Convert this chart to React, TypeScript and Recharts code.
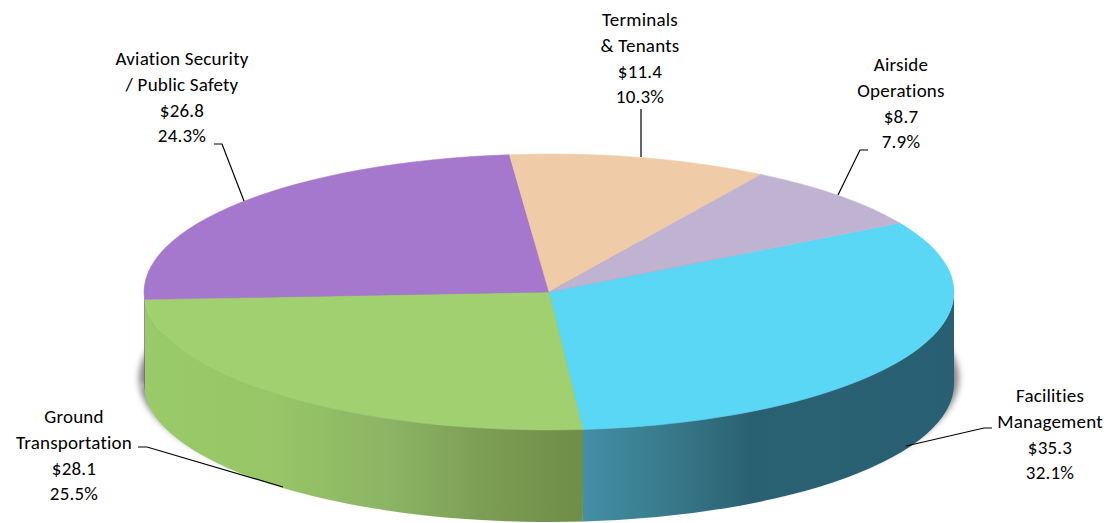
import { Pie, PieChart } from 'recharts';

const WIDTH = 1112;
const HEIGHT = 523;
const CX = 549;
const CY = 292;
const RX = 405;
const RY = 138;
const DEPTH = 92;
const START = 30;

const names = [
  ['Facilities', 'Management'],
  ['Ground', 'Transportation'],
  ['Aviation Security', '/ Public Safety'],
  ['Terminals', '& Tenants'],
  ['Airside', 'Operations'],
];
const amounts = [35.3, 28.1, 26.8, 11.4, 8.7];
const shares = ['32.1%', '25.5%', '24.3%', '10.3%', '7.9%'];
const faceColors = ['#5bd7f6', '#a0d06f', '#a678cd', '#f0cba8', '#bfb3d1'];
const wallColors = ['url(#wallBlue)', 'url(#wallGreen)', '#6b4a85', '#96806a', '#7a7285'];

// label anchor: centre x, first baseline
const labelSpots = [
  [1050, 402],
  [74, 423],
  [182, 65],
  [640, 26],
  [901, 71],
];
const leaders = [
  '992,428 984,428 906,446',
  '138,447 147,447 283,487',
  '214,144 222,144 244,201',
  '641,109 641,157',
  '868,150 860,150 838,195',
];

const rows = names.map((lines, i) => ({
  name: lines.join(' '),
  value: amounts[i],
  fill: faceColors[i],
  wall: wallColors[i],
  lines,
  share: shares[i],
}));

const px = (deg: number) => CX + RX * Math.cos((deg * Math.PI) / 180);
const py = (deg: number) => CY - RY * Math.sin((deg * Math.PI) / 180);

function FaceSector({ startAngle, endAngle, fill }: any) {
  const large = Math.abs(startAngle - endAngle) > 180 ? 1 : 0;
  const d = `M${CX},${CY} L${px(startAngle)},${py(startAngle)} A${RX},${RY} 0 ${large} 1 ${px(endAngle)},${py(endAngle)} Z`;
  return <path d={d} fill={fill} stroke={fill} strokeWidth={0.5} />;
}

// side of the disc, only the part facing the viewer (angles -180..0)
function WallSector({ startAngle, endAngle, wall }: any) {
  const norm = (a: number) => (a > 0 ? a - 360 : a);
  let a = startAngle;
  let b = endAngle;
  if (a > 0 && b > 0) return null;
  if (a > 0) a = 0;
  a = norm(a);
  b = norm(b);
  if (b < -180) b = -180;
  if (a <= -180) return null;
  const d = `M${px(a)},${py(a)} A${RX},${RY} 0 0 1 ${px(b)},${py(b)} L${px(b)},${py(b) + DEPTH} A${RX},${RY} 0 0 0 ${px(a)},${py(a) + DEPTH} Z`;
  return <path d={d} fill={wall} />;
}

function ShadowSector({ startAngle, endAngle }: any) {
  const large = Math.abs(startAngle - endAngle) > 180 ? 1 : 0;
  const k = 1.012;
  const sx = (deg: number) => CX + RX * k * Math.cos((deg * Math.PI) / 180);
  const sy = (deg: number) => CY + 86 - RY * Math.sin((deg * Math.PI) / 180);
  const d = `M${CX},${CY + 86} L${sx(startAngle)},${sy(startAngle)} A${RX * k},${RY} 0 ${large} 1 ${sx(endAngle)},${sy(endAngle)} Z`;
  return <path d={d} fill="#858585" filter="url(#soft)" />;
}

function SliceLabel({ index }: any) {
  const row = rows[index];
  const [x, y] = labelSpots[index];
  const textLines = [...row.lines, `$${row.value}`, row.share];
  return (
    <g>
      <polyline points={leaders[index]} fill="none" stroke="#000" strokeWidth={1.2} />
      <text
        textAnchor="middle"
        fontFamily="Carlito, Lato, sans-serif"
        fontSize={19}
        letterSpacing={0.2}
        fill="#000"
      >
        {textLines.map((t, i) => (
          <tspan key={t} x={x} y={y + i * 25.8}>
            {t}
          </tspan>
        ))}
      </text>
    </g>
  );
}

export default function App() {
  return (
    <div style={{ position: 'absolute', left: 0, top: 0, width: WIDTH, height: HEIGHT }}>
      <PieChart width={WIDTH} height={HEIGHT} margin={{ top: 0, right: 0, bottom: 0, left: 0 }}>
        <defs>
          <linearGradient id="wallGreen" gradientUnits="userSpaceOnUse" x1={144} y1={0} x2={583} y2={0}>
            <stop offset="0" stopColor="#9acb68" />
            <stop offset="0.3" stopColor="#97c567" />
            <stop offset="0.55" stopColor="#8cb564" />
            <stop offset="0.8" stopColor="#7a9b52" />
            <stop offset="1" stopColor="#6e8e49" />
          </linearGradient>
          <linearGradient id="wallBlue" gradientUnits="userSpaceOnUse" x1={583} y1={0} x2={953} y2={0}>
            <stop offset="0" stopColor="#438fa5" />
            <stop offset="0.25" stopColor="#377889" />
            <stop offset="0.45" stopColor="#2a6172" />
            <stop offset="1" stopColor="#285f73" />
          </linearGradient>
          <filter id="soft" filterUnits="userSpaceOnUse" x={0} y={0} width={WIDTH} height={HEIGHT}>
            <feGaussianBlur stdDeviation={3} />
          </filter>
        </defs>
        <Pie
          data={rows}
          dataKey="value"
          cx={CX}
          cy={CY}
          outerRadius={RX}
          startAngle={START}
          endAngle={START - 360}
          shape={ShadowSector}
          isAnimationActive={false}
        />
        <Pie
          data={rows}
          dataKey="value"
          cx={CX}
          cy={CY}
          outerRadius={RX}
          startAngle={START}
          endAngle={START - 360}
          shape={WallSector}
          isAnimationActive={false}
        />
        <Pie
          data={rows}
          dataKey="value"
          cx={CX}
          cy={CY}
          outerRadius={RX}
          startAngle={START}
          endAngle={START - 360}
          shape={FaceSector}
          label={SliceLabel}
          labelLine={false}
          isAnimationActive={false}
        />
      </PieChart>
    </div>
  );
}
